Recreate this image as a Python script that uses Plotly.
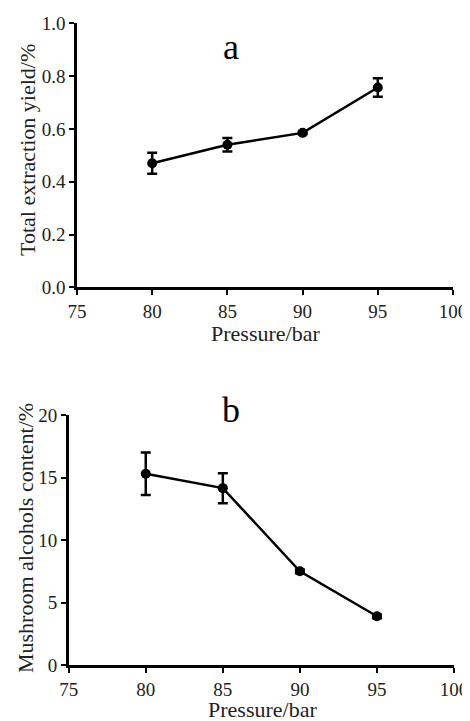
import plotly.graph_objects as go

pressure = [80, 85, 90, 95]
yield_vals = [0.47, 0.54, 0.585, 0.757]
yield_err = [0.04, 0.026, 0.005, 0.035]
alcohol_vals = [15.3, 14.15, 7.5, 3.9]
alcohol_err = [1.7, 1.2, 0.15, 0.15]

# page body has an 8px margin; work in figure pixel coords
W, H = 462, 713
FONT = "Times New Roman, Liberation Serif, serif"
fig = go.Figure()

line_style = dict(color="black", width=2.5)
marker_style = dict(color="black", size=10)
err_style = dict(type="data", visible=True, color="black", thickness=2.5, width=5)

fig.add_trace(go.Scatter(x=pressure, y=yield_vals, mode="lines+markers",
                         line=line_style, marker=marker_style,
                         error_y=dict(array=yield_err, **err_style),
                         xaxis="x", yaxis="y", showlegend=False))
fig.add_trace(go.Scatter(x=pressure, y=alcohol_vals, mode="lines+markers",
                         line=line_style, marker=marker_style,
                         error_y=dict(array=alcohol_err, **err_style),
                         xaxis="x2", yaxis="y2", showlegend=False))

axis_common = dict(showline=True, linecolor="black", linewidth=2.5, ticks="outside",
                   ticklen=5, tickwidth=2, tickcolor="black", showgrid=False,
                   zeroline=False, tickfont=dict(family=FONT, size=19, color="#222"),
                   automargin=False)

fig.update_layout(
    width=W, height=H,
    margin=dict(l=0, r=0, t=0, b=0),
    paper_bgcolor="white", plot_bgcolor="white",
    xaxis=dict(domain=[69/W, 445/W], range=[75, 100], tickvals=[75, 80, 85, 90, 95, 100],
               anchor="y", **axis_common),
    yaxis=dict(domain=[1-279.3/H, 1-15.3/H], range=[0, 1.0], tickvals=[0, 0.2, 0.4, 0.6, 0.8, 1.0],
               tickformat=".1f", anchor="x", **axis_common),
    xaxis2=dict(domain=[60.7/W, 446/W], range=[75, 100], tickvals=[75, 80, 85, 90, 95, 100],
                anchor="y2", **axis_common),
    yaxis2=dict(domain=[1-657/H, 1-407/H], range=[0, 20], tickvals=[0, 5, 10, 15, 20],
                anchor="x2", **axis_common),
)

ann_font = dict(family=FONT, size=22, color="#222")
annotations = [
    dict(text="a", x=223/W, y=1-39/H, font=dict(family=FONT, size=36, color="black")),
    dict(text="b", x=223/W, y=1-402/H, font=dict(family=FONT, size=36, color="black")),
    dict(text="Pressure/bar", x=257/W, y=1-326/H, font=ann_font),
    dict(text="Pressure/bar", x=254/W, y=1-701/H, font=ann_font),
    dict(text="Total extraction yield/%", x=20/W, y=1-142/H, textangle=-90, font=ann_font),
    dict(text="Mushroom alcohols content/%", x=17/W, y=1-530/H, textangle=-90, font=ann_font),
]
for a in annotations:
    a.update(xref="paper", yref="paper", showarrow=False, xanchor="center", yanchor="middle")
fig.update_layout(annotations=annotations)

fig.write_html("out.html")
